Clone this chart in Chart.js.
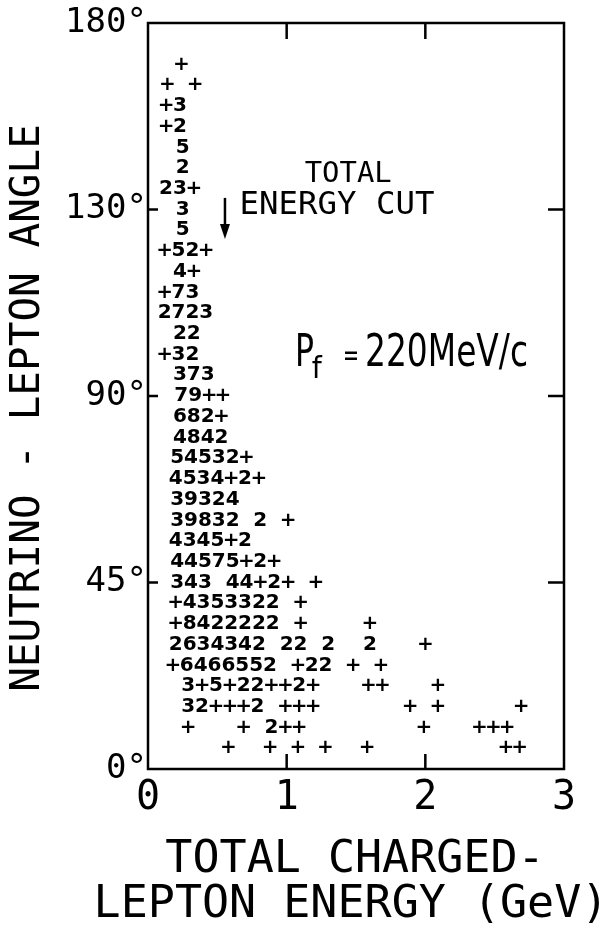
<!DOCTYPE html>
<html>
<head>
<meta charset="utf-8">
<script src="https://cdn.jsdelivr.net/npm/chart.js@4.4.0/dist/chart.umd.min.js"></script>
<style>
    html, body { margin: 0; padding: 0; background: #fff; }
    #wrap { width: 610px; height: 932px; }
</style>
</head>
<body>
<div id="wrap"><canvas id="grafico" width="610" height="932"></canvas></div>
<script>
// linhas do histograma: angulo (graus), energia do 1o caractere (GeV), contagens por bin de 0.1 GeV
const angles = [170, 165, 160, 155, 150, 145, 140, 135, 130, 125, 120, 115, 110, 105, 100, 95, 90,
                85, 80, 75, 70, 65, 60, 55, 50, 45, 40, 35, 30, 25, 20, 15, 10, 5];
const rowStart = [0.24, 0.14, 0.13, 0.13, 0.25, 0.25, 0.13, 0.25, 0.25, 0.12, 0.23, 0.12, 0.12, 0.23, 0.12, 0.23, 0.24,
                  0.23, 0.23, 0.21, 0.2, 0.21, 0.21, 0.2, 0.21, 0.21, 0.2, 0.2, 0.2, 0.18, 0.29, 0.29, 0.29, 0.58];
const rowCounts = [
    '+', '+ +', '+3', '+2', '5', '2', '23+', '3', '5', '+52+', '4+', '+73', '2723', '22', '+32', '373', '79++',
    '682+', '4842', '54532+', '4534+2+', '39324', '39832 2 +', '4345+2', '44575+2+', '343 44+2+ +',
    '+4353322 +', '+8422222 +    +', '2634342 22 2  2   +', '+6466552 +22 + +',
    '3+5+22++2+   ++   +', '32+++2 +++      + +     +', '+   + 2++        +   +++', '+  + + +  +         ++'
];
const binWidth = 0.1;

const energyTicks = [0, 1, 2, 3];
const angleTicks = [0, 45, 90, 135, 180];
const angleTickLabels = ['0°', '45°', '90°', '130°', '180°'];

const cutEnergy = 0.555;

const pontos = [];
angles.forEach((a, r) => {
    [...rowCounts[r]].forEach((c, i) => {
        if (c !== ' ') pontos.push({ x: rowStart[r] + binWidth * i, y: a, t: c });
    });
});

function textoAjustado(ctx, txt, left, mid, font, largura) {
    ctx.font = font;
    const w = ctx.measureText(txt).width;
    const s = largura ? largura / w : 1;
    ctx.save();
    ctx.translate(left, mid);
    ctx.scale(s, 1);
    ctx.textAlign = 'left';
    ctx.textBaseline = 'middle';
    ctx.fillText(txt, 0, 0);
    ctx.restore();
}

// desenha os caracteres (+ e numeros) no lugar de cada ponto
const rotulos = {
    id: 'rotulos',
    afterDatasetsDraw(chart) {
        const ctx = chart.ctx;
        const ds = chart.data.datasets[0];
        const meta = chart.getDatasetMeta(0);
        ctx.save();
        ctx.fillStyle = '#000';
        ctx.font = 'bold 20px "DejaVu Sans"';
        ctx.textAlign = 'center';
        ctx.textBaseline = 'middle';
        meta.data.forEach((el, i) => ctx.fillText(ds.data[i].t, el.x, el.y));
        ctx.restore();
    }
};

// moldura, marcas internas, titulos dos eixos e anotacoes
const moldura = {
    id: 'moldura',
    afterDraw(chart) {
        const { ctx, chartArea: ca, scales: { x, y } } = chart;
        ctx.save();
        ctx.strokeStyle = '#000';
        ctx.fillStyle = '#000';
        ctx.lineWidth = 2.5;
        ctx.strokeRect(ca.left, ca.top, ca.right - ca.left, ca.bottom - ca.top);

        ctx.beginPath();
        [45, 90, 135].forEach(v => {
            const py = y.getPixelForValue(v);
            ctx.moveTo(ca.left, py); ctx.lineTo(ca.left + 10, py);
            ctx.moveTo(ca.right, py); ctx.lineTo(ca.right - 16, py);
        });
        [1, 2].forEach(v => {
            const px = x.getPixelForValue(v);
            ctx.moveTo(px, ca.bottom); ctx.lineTo(px, ca.bottom - 15);
            ctx.moveTo(px, ca.top); ctx.lineTo(px, ca.top + 16);
        });
        ctx.stroke();

        // seta do corte de energia
        const ax = x.getPixelForValue(cutEnergy);
        const a0 = y.getPixelForValue(137.8);
        const a1 = y.getPixelForValue(127.9);
        ctx.beginPath();
        ctx.moveTo(ax, a0); ctx.lineTo(ax, a1 - 10);
        ctx.stroke();
        ctx.beginPath();
        ctx.moveTo(ax - 5, a1 - 15); ctx.lineTo(ax + 5, a1 - 15); ctx.lineTo(ax, a1);
        ctx.closePath();
        ctx.fill();

        const mono = '"DejaVu Sans Mono"';
        textoAjustado(ctx, 'TOTAL', x.getPixelForValue(1.13), y.getPixelForValue(143.3), '28px ' + mono, 87);
        textoAjustado(ctx, 'ENERGY CUT', x.getPixelForValue(0.66), y.getPixelForValue(135.9), '32px ' + mono, 195);

        const sans = '"DejaVu Sans"';
        textoAjustado(ctx, 'P', x.getPixelForValue(1.06), y.getPixelForValue(100.1), '44px ' + sans, 19);
        textoAjustado(ctx, 'f', x.getPixelForValue(1.18), y.getPixelForValue(96.3), '30px ' + sans, 10);
        textoAjustado(ctx, '=', x.getPixelForValue(1.406), y.getPixelForValue(99.4), '30px ' + sans, 16);
        textoAjustado(ctx, '220MeV/c', x.getPixelForValue(1.565), y.getPixelForValue(100.1), '44px ' + sans, 163);

        // titulos dos eixos
        ctx.textAlign = 'center';
        ctx.textBaseline = 'middle';
        ctx.font = '45px ' + mono;
        ctx.fillText('TOTAL CHARGED-', 355, 860);
        ctx.fillText('LEPTON ENERGY (GeV)', 351, 905);

        ctx.save();
        ctx.translate(28, 408);
        ctx.rotate(-Math.PI / 2);
        ctx.font = '41px ' + mono;
        ctx.fillText('NEUTRINO - LEPTON ANGLE', 0, 0);
        ctx.restore();

        ctx.restore();
    }
};

document.addEventListener('DOMContentLoaded', function () {
    const cv = document.getElementById('grafico');
    new Chart(cv, {
        type: 'scatter',
        data: {
            datasets: [{
                label: 'Eventos',
                data: pontos,
                pointRadius: 0,
                pointHoverRadius: 0
            }]
        },
        options: {
            responsive: false,
            devicePixelRatio: 1,
            animation: false,
            layout: { padding: { left: 0, right: 46, top: 23, bottom: 0 } },
            plugins: { legend: { display: false }, tooltip: { enabled: false } },
            scales: {
                x: {
                    type: 'linear',
                    min: 0,
                    max: 3,
                    afterBuildTicks: s => { s.ticks = energyTicks.map(v => ({ value: v })); },
                    afterFit: s => { s.height = 163; },
                    grid: { display: false, drawTicks: false },
                    border: { display: false },
                    ticks: {
                        color: '#000',
                        padding: 6,
                        font: { family: 'DejaVu Sans Mono', size: 40 },
                        callback: v => String(v)
                    },
                    title: { display: false }
                },
                y: {
                    type: 'linear',
                    min: 0,
                    max: 180,
                    afterBuildTicks: s => { s.ticks = angleTicks.map(v => ({ value: v })); },
                    afterFit: s => { s.width = 148; },
                    grid: { display: false, drawTicks: false },
                    border: { display: false },
                    ticks: {
                        color: '#000',
                        padding: 1,
                        font: { family: 'DejaVu Sans Mono', size: 34 },
                        callback: v => angleTickLabels[angleTicks.indexOf(v)]
                    },
                    title: { display: false }
                }
            }
        },
        plugins: [rotulos, moldura]
    });
});
</script>
</body>
</html>
